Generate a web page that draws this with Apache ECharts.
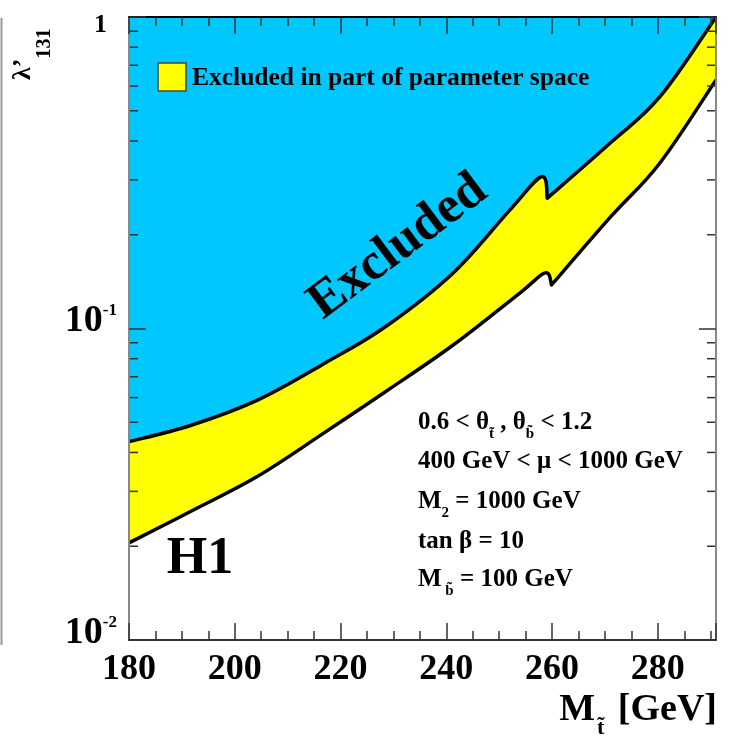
<!DOCTYPE html>
<html>
<head>
<meta charset="utf-8">
<script src="https://cdn.jsdelivr.net/npm/echarts@6/dist/echarts.min.js"></script>
<style>
  html, body { margin: 0; padding: 0; background: #ffffff; }
  #chart { width: 735px; height: 737px; }
</style>
</head>
<body>
<div id="chart"></div>
<script>
// Stop mass (GeV) and coupling values along the two exclusion contours
const upperMass   = [180, 191.9, 204.4, 217.1, 228.7, 241.3, 252.0, 258.0, 259.1, 271.0, 280.4, 291];
const upperLambda = [0.0433, 0.0490, 0.0590, 0.0775, 0.1019, 0.1508, 0.240, 0.307, 0.262, 0.394, 0.555, 1.0];
const lowerMass   = [180, 191.9, 204.4, 217.1, 228.7, 241.3, 253.9, 258.7, 259.9, 271.1, 280.4, 291];
const lowerLambda = [0.0205, 0.0260, 0.0336, 0.0465, 0.0630, 0.0885, 0.130, 0.1508, 0.138, 0.2285, 0.340, 0.628];
// index of the point at the bottom of the step near 259 GeV
const stepIndex = 8;

// Axis ranges and the log-axis minor tick values
const xRange = [180, 291];
const yRange = [0.01, 1];
const yMinorTicks = [0.02, 0.03, 0.04, 0.05, 0.06, 0.07, 0.08, 0.09,
                     0.2, 0.3, 0.4, 0.5, 0.6, 0.7, 0.8, 0.9];

// Text
const legendText = 'Excluded in part of parameter space';
const paramLines = [
  '{m|0.6 < θ}{s|t̃}{m| , θ}{s|b̃}{m| < 1.2}',
  '{m|400 GeV < μ < 1000 GeV}',
  '{m|M}{s|2}{m| = 1000 GeV}',
  '{m|tan β = 10}',
  '{m|M}{s| b̃}{m| = 100 GeV}'
];

const SERIF = "'Liberation Serif', 'Times New Roman', serif";
const BLUE = '#00c8ff';
const YELLOW = '#ffff00';
const TICK = '#333333';

const chart = echarts.init(document.getElementById('chart'), null, { renderer: 'canvas' });

const tickStyle = { color: TICK, width: 1.5 };

function xAxisDef(pos, showLabel, lineColor) {
  return {
    type: 'value', position: pos, min: xRange[0], max: xRange[1], interval: 20,
    z: 10,
    axisLine: { show: true, onZero: false, lineStyle: { color: lineColor, width: 2 } },
    axisTick: { show: true, inside: true, length: 17, lineStyle: tickStyle },
    minorTick: { show: true, splitNumber: 4, length: 9, lineStyle: tickStyle },
    splitLine: { show: false },
    axisLabel: {
      show: showLabel, showMaxLabel: false, margin: 12,
      fontFamily: SERIF, fontWeight: 'bold', fontSize: 36, color: '#000'
    }
  };
}

function yAxisDef(pos, showLabel, lineColor) {
  return {
    type: 'log', logBase: 10, position: pos, min: yRange[0], max: yRange[1],
    z: 10,
    axisLine: { show: true, onZero: false, lineStyle: { color: lineColor, width: 2 } },
    axisTick: { show: true, inside: true, length: 17, lineStyle: tickStyle },
    splitLine: { show: false },
    axisLabel: {
      show: showLabel, margin: 12,
      formatter: function (v) {
        const e = Math.round(Math.log10(v));
        if (e === 0) return '{one|1}';
        return '{b|10}{sup|' + e + '}';
      },
      rich: {
        one: { fontFamily: SERIF, fontWeight: 'bold', fontSize: 26, color: '#000', padding: [16, 10, 0, 0] },
        b: { fontFamily: SERIF, fontWeight: 'bold', fontSize: 38, lineHeight: 52, color: '#000', verticalAlign: 'top' },
        sup: { fontFamily: SERIF, fontWeight: 'bold', fontSize: 17, lineHeight: 17, color: '#000', verticalAlign: 'top' }
      }
    }
  };
}

// Catmull-Rom style cubic segments through pixel points; the first and last
// points of a run are treated as ends, which leaves a sharp corner there.
function smoothRun(p, withMove) {
  const t = 0.18;
  let s = withMove ? 'M ' + p[0][0] + ' ' + p[0][1] : '';
  for (let i = 0; i < p.length - 1; i++) {
    const p0 = p[Math.max(i - 1, 0)], p1 = p[i], p2 = p[i + 1], p3 = p[Math.min(i + 2, p.length - 1)];
    const c1x = p1[0] + (p2[0] - p0[0]) * t, c1y = p1[1] + (p2[1] - p0[1]) * t;
    const c2x = p2[0] - (p3[0] - p1[0]) * t, c2y = p2[1] - (p3[1] - p1[1]) * t;
    s += ' C ' + c1x + ' ' + c1y + ' ' + c2x + ' ' + c2y + ' ' + p2[0] + ' ' + p2[1];
  }
  return s;
}

// A contour drawn as one filled region (curve up to the top of the frame)
// plus its black outline; the curve is split at the step near 259 GeV.
function contourSeries(name, mass, lambda, fill, z) {
  return {
    name: name, type: 'custom', xAxisIndex: 0, yAxisIndex: 0, silent: true, clip: false, z: z,
    data: [0],
    renderItem: function (params, api) {
      const cs = params.coordSys;
      const pts = mass.map(function (m, i) { return api.coord([m, lambda[i]]); });
      const curve = smoothRun(pts.slice(0, stepIndex + 1), true) + smoothRun(pts.slice(stepIndex), false);
      const right = cs.x + cs.width, left = cs.x, top = cs.y;
      return {
        type: 'group',
        children: [
          { type: 'path', shape: { pathData: curve + ' L ' + right + ' ' + top + ' L ' + left + ' ' + top + ' Z' },
            style: { fill: fill, stroke: null, lineWidth: 0 } },
          { type: 'path', shape: { pathData: curve },
            style: { fill: null, stroke: '#000', lineWidth: 3.5, lineJoin: 'round', lineCap: 'butt' } }
        ]
      };
    }
  };
}

const textRich = {
  m: { fontFamily: SERIF, fontWeight: 'bold', fontSize: 25, lineHeight: 30, color: '#000', verticalAlign: 'top' },
  s: { fontFamily: SERIF, fontWeight: 'bold', fontSize: 15, lineHeight: 15, color: '#000', verticalAlign: 'top', padding: [17, 0, 0, 0] }
};

const paramY = [425, 464, 504, 544, 582];

const graphics = [
  // thin frame line at the far left
  { type: 'line', shape: { x1: 1.5, y1: 18, x2: 1.5, y2: 645 }, style: { stroke: '#999', lineWidth: 2 }, z: 20 },
  // legend swatch and text
  { type: 'rect', shape: { x: 158, y: 63, width: 28, height: 28 }, style: { fill: YELLOW, stroke: '#444', lineWidth: 1.5 }, z: 20 },
  { type: 'text', x: 192, y: 78, z: 20,
    style: { text: legendText, fontFamily: SERIF, fontWeight: 'bold', fontSize: 25.5, fill: '#000', align: 'left', verticalAlign: 'middle' } },
  // region labels
  { type: 'text', x: 398, y: 247, rotation: 36.8 * Math.PI / 180, z: 20,
    style: { text: 'Excluded', fontFamily: SERIF, fontWeight: 'bold', fontSize: 52, fill: '#000', align: 'center', verticalAlign: 'middle' } },
  { type: 'text', x: 200, y: 560, z: 20,
    style: { text: 'H1', fontFamily: SERIF, fontWeight: 'bold', fontSize: 52, fill: '#000', align: 'center', verticalAlign: 'middle' } },
  // axis titles
  { type: 'text', x: 717, y: 713, z: 20,
    style: {
      text: '{m|M}{s|t̃}{m| [GeV]}', align: 'right', verticalAlign: 'middle',
      rich: {
        m: { fontFamily: SERIF, fontWeight: 'bold', fontSize: 38, lineHeight: 44, color: '#000', verticalAlign: 'top' },
        s: { fontFamily: SERIF, fontWeight: 'bold', fontSize: 22, lineHeight: 22, color: '#000', verticalAlign: 'top', padding: [26, 4, 0, 2] }
      }
    } },
  { type: 'text', x: 24, y: 80, rotation: Math.PI / 2, z: 20,
    style: {
      text: '{m|λ’}{s|131}', align: 'left', verticalAlign: 'middle',
      rich: {
        m: { fontFamily: SERIF, fontWeight: 'bold', fontSize: 26, lineHeight: 28, color: '#000', verticalAlign: 'top' },
        s: { fontFamily: SERIF, fontWeight: 'bold', fontSize: 20, lineHeight: 20, color: '#000', verticalAlign: 'top', padding: [25, 0, 0, 0] }
      }
    } }
];

paramLines.forEach(function (t, i) {
  graphics.push({ type: 'text', x: 418, y: paramY[i], z: 20,
    style: { text: t, rich: textRich, align: 'left', verticalAlign: 'middle' } });
});

const option = {
  animation: false,
  backgroundColor: '#ffffff',
  grid: { left: 129, right: 19, top: 17, bottom: 97, containLabel: false },
  xAxis: [xAxisDef('bottom', true, '#333333'), xAxisDef('top', false, '#000000')],
  yAxis: [yAxisDef('left', true, '#888888'), yAxisDef('right', false, '#888888')],
  series: [
    contourSeries('partial', lowerMass, lowerLambda, YELLOW, 2),
    contourSeries('excluded', upperMass, upperLambda, BLUE, 3),
    {
      name: 'minorY', type: 'custom', xAxisIndex: 0, yAxisIndex: 0, silent: true, clip: false, z: 9,
      data: yMinorTicks.map(function (v) { return [xRange[0], v]; }),
      renderItem: function (params, api) {
        const cs = params.coordSys;
        const p = api.coord([api.value(0), api.value(1)]);
        const len = 9;
        return {
          type: 'group',
          children: [
            { type: 'line', shape: { x1: cs.x, y1: p[1], x2: cs.x + len, y2: p[1] }, style: { stroke: TICK, lineWidth: 1.5 } },
            { type: 'line', shape: { x1: cs.x + cs.width - len, y1: p[1], x2: cs.x + cs.width, y2: p[1] }, style: { stroke: TICK, lineWidth: 1.5 } }
          ]
        };
      }
    }
  ],
  graphic: graphics
};

chart.setOption(option);
</script>
</body>
</html>
